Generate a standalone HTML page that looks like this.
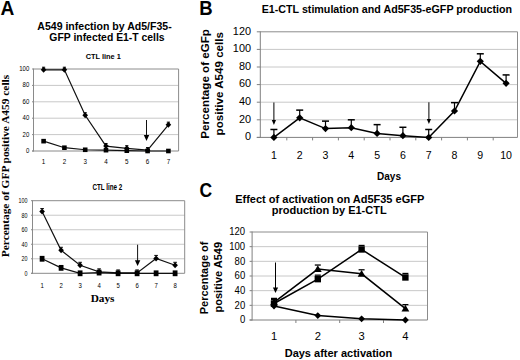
<!DOCTYPE html>
<html><head><meta charset="utf-8"><style>
html,body{margin:0;padding:0;background:#fff;width:520px;height:360px;overflow:hidden}
svg{display:block}
</style></head><body>
<svg width="520" height="360" viewBox="0 0 520 360">
<rect width="520" height="360" fill="#fff"/>
<text x="0.4" y="14.7" font-size="20.6" font-weight="bold" text-anchor="start" font-family='"Liberation Sans", sans-serif' fill="#000"  transform="translate(0.4,0) scale(0.93,1) translate(-0.4,0)">A</text>
<text x="199.2" y="14.9" font-size="20.6" font-weight="bold" text-anchor="start" font-family='"Liberation Sans", sans-serif' fill="#000"  transform="translate(199.2,0) scale(0.9,1) translate(-199.2,0)">B</text>
<text x="199.5" y="197.3" font-size="20.6" font-weight="bold" text-anchor="start" font-family='"Liberation Sans", sans-serif' fill="#000"  transform="translate(199.5,0) scale(0.85,1) translate(-199.5,0)">C</text>
<text x="104.5" y="30" font-size="10.55" font-weight="bold" text-anchor="middle" font-family='"Liberation Sans", sans-serif' fill="#000" >A549 infection by Ad5/F35-</text>
<text x="107" y="40.6" font-size="10.4" font-weight="bold" text-anchor="middle" font-family='"Liberation Sans", sans-serif' fill="#000" >GFP infected E1-T cells</text>
<text x="103.3" y="58.7" font-size="7.4" font-weight="bold" text-anchor="middle" font-family='"Liberation Sans", sans-serif' fill="#000" >CTL line 1</text>
<text x="107.4" y="190.2" font-size="8.6" font-weight="bold" text-anchor="middle" font-family='"Liberation Sans", sans-serif' fill="#000"  transform="translate(107.4,0) scale(0.73,1) translate(-107.4,0)">CTL line 2</text>
<text x="0" y="0" font-size="11.4" font-weight="bold" text-anchor="middle" font-family='"Liberation Serif", serif' fill="#000" transform="translate(8.9,166) rotate(-90)">Percentage of GFP positive A459 cells</text>
<text x="102.6" y="302.3" font-size="11.3" font-weight="bold" text-anchor="middle" font-family='"Liberation Serif", serif' fill="#000" >Days</text>
<line x1="33.50" y1="134.60" x2="178.60" y2="134.60" stroke="#c8c8c8" stroke-width="1" />
<line x1="33.50" y1="118.20" x2="178.60" y2="118.20" stroke="#c8c8c8" stroke-width="1" />
<line x1="33.50" y1="101.80" x2="178.60" y2="101.80" stroke="#c8c8c8" stroke-width="1" />
<line x1="33.50" y1="85.40" x2="178.60" y2="85.40" stroke="#c8c8c8" stroke-width="1" />
<line x1="33.50" y1="69.00" x2="178.60" y2="69.00" stroke="#8c8c8c" stroke-width="1" />
<line x1="178.60" y1="69.00" x2="178.60" y2="151.00" stroke="#8c8c8c" stroke-width="1" />
<line x1="32.00" y1="151.00" x2="33.50" y2="151.00" stroke="#8a8a8a" stroke-width="1" />
<line x1="32.00" y1="134.60" x2="33.50" y2="134.60" stroke="#8a8a8a" stroke-width="1" />
<line x1="32.00" y1="118.20" x2="33.50" y2="118.20" stroke="#8a8a8a" stroke-width="1" />
<line x1="32.00" y1="101.80" x2="33.50" y2="101.80" stroke="#8a8a8a" stroke-width="1" />
<line x1="32.00" y1="85.40" x2="33.50" y2="85.40" stroke="#8a8a8a" stroke-width="1" />
<line x1="32.00" y1="69.00" x2="33.50" y2="69.00" stroke="#8a8a8a" stroke-width="1" />
<line x1="33.50" y1="68.50" x2="33.50" y2="151.50" stroke="#8a8a8a" stroke-width="1" />
<line x1="32.00" y1="151.00" x2="178.60" y2="151.00" stroke="#8a8a8a" stroke-width="1" />
<text x="29.3" y="153.1" font-size="6.5" font-weight="normal" text-anchor="end" font-family='"Liberation Sans", sans-serif' fill="#000"  transform="translate(29.3,0) scale(0.93,1) translate(-29.3,0)">0</text>
<text x="29.3" y="136.7" font-size="6.5" font-weight="normal" text-anchor="end" font-family='"Liberation Sans", sans-serif' fill="#000"  transform="translate(29.3,0) scale(0.93,1) translate(-29.3,0)">20</text>
<text x="29.3" y="120.3" font-size="6.5" font-weight="normal" text-anchor="end" font-family='"Liberation Sans", sans-serif' fill="#000"  transform="translate(29.3,0) scale(0.93,1) translate(-29.3,0)">40</text>
<text x="29.3" y="103.9" font-size="6.5" font-weight="normal" text-anchor="end" font-family='"Liberation Sans", sans-serif' fill="#000"  transform="translate(29.3,0) scale(0.93,1) translate(-29.3,0)">60</text>
<text x="29.3" y="87.5" font-size="6.5" font-weight="normal" text-anchor="end" font-family='"Liberation Sans", sans-serif' fill="#000"  transform="translate(29.3,0) scale(0.93,1) translate(-29.3,0)">80</text>
<text x="29.3" y="71.1" font-size="6.5" font-weight="normal" text-anchor="end" font-family='"Liberation Sans", sans-serif' fill="#000"  transform="translate(29.3,0) scale(0.93,1) translate(-29.3,0)">100</text>
<text x="43.6" y="163.6" font-size="7" font-weight="normal" text-anchor="middle" font-family='"Liberation Sans", sans-serif' fill="#000"  transform="translate(43.6,0) scale(0.9,1) translate(-43.6,0)">1</text>
<text x="64.4" y="163.6" font-size="7" font-weight="normal" text-anchor="middle" font-family='"Liberation Sans", sans-serif' fill="#000"  transform="translate(64.4,0) scale(0.9,1) translate(-64.4,0)">2</text>
<text x="85.2" y="163.6" font-size="7" font-weight="normal" text-anchor="middle" font-family='"Liberation Sans", sans-serif' fill="#000"  transform="translate(85.2,0) scale(0.9,1) translate(-85.2,0)">3</text>
<text x="106.0" y="163.6" font-size="7" font-weight="normal" text-anchor="middle" font-family='"Liberation Sans", sans-serif' fill="#000"  transform="translate(106.0,0) scale(0.9,1) translate(-106.0,0)">4</text>
<text x="126.80000000000001" y="163.6" font-size="7" font-weight="normal" text-anchor="middle" font-family='"Liberation Sans", sans-serif' fill="#000"  transform="translate(126.80000000000001,0) scale(0.9,1) translate(-126.80000000000001,0)">5</text>
<text x="147.6" y="163.6" font-size="7" font-weight="normal" text-anchor="middle" font-family='"Liberation Sans", sans-serif' fill="#000"  transform="translate(147.6,0) scale(0.9,1) translate(-147.6,0)">6</text>
<text x="168.4" y="163.6" font-size="7" font-weight="normal" text-anchor="middle" font-family='"Liberation Sans", sans-serif' fill="#000"  transform="translate(168.4,0) scale(0.9,1) translate(-168.4,0)">7</text>
<path d="M43.60,141.16L64.40,147.72L85.20,149.77L106.00,150.18L126.80,150.59L147.60,151.00L168.40,151.00" fill="none" stroke="#111" stroke-width="1.2" />
<path d="M43.60,69.82L64.40,69.82L85.20,115.33L106.00,146.08L126.80,148.29L147.60,150.18L168.40,124.76" fill="none" stroke="#111" stroke-width="1.2" />
<path d="M41.30,138.86h4.60v4.60h-4.60Z" fill="#000" stroke="none" stroke-width="1" />
<path d="M62.10,145.42h4.60v4.60h-4.60Z" fill="#000" stroke="none" stroke-width="1" />
<path d="M82.90,147.47h4.60v4.60h-4.60Z" fill="#000" stroke="none" stroke-width="1" />
<path d="M103.70,147.88h4.60v4.60h-4.60Z" fill="#000" stroke="none" stroke-width="1" />
<path d="M124.50,148.29h4.60v4.60h-4.60Z" fill="#000" stroke="none" stroke-width="1" />
<path d="M145.30,148.70h4.60v4.60h-4.60Z" fill="#000" stroke="none" stroke-width="1" />
<path d="M166.10,148.70h4.60v4.60h-4.60Z" fill="#000" stroke="none" stroke-width="1" />
<path d="M43.60,66.82L46.40,69.82L43.60,72.82L40.80,69.82Z" fill="#000" stroke="none" stroke-width="1" />
<line x1="42.00" y1="67.22" x2="45.20" y2="67.22" stroke="#000" stroke-width="1" />
<path d="M64.40,66.82L67.20,69.82L64.40,72.82L61.60,69.82Z" fill="#000" stroke="none" stroke-width="1" />
<line x1="62.80" y1="67.22" x2="66.00" y2="67.22" stroke="#000" stroke-width="1" />
<path d="M85.20,112.33L88.00,115.33L85.20,118.33L82.40,115.33Z" fill="#000" stroke="none" stroke-width="1" />
<line x1="83.60" y1="112.73" x2="86.80" y2="112.73" stroke="#000" stroke-width="1" />
<path d="M106.00,143.08L108.80,146.08L106.00,149.08L103.20,146.08Z" fill="#000" stroke="none" stroke-width="1" />
<line x1="104.40" y1="143.48" x2="107.60" y2="143.48" stroke="#000" stroke-width="1" />
<path d="M126.80,145.29L129.60,148.29L126.80,151.29L124.00,148.29Z" fill="#000" stroke="none" stroke-width="1" />
<line x1="125.20" y1="145.69" x2="128.40" y2="145.69" stroke="#000" stroke-width="1" />
<path d="M147.60,147.18L150.40,150.18L147.60,153.18L144.80,150.18Z" fill="#000" stroke="none" stroke-width="1" />
<line x1="146.00" y1="147.58" x2="149.20" y2="147.58" stroke="#000" stroke-width="1" />
<path d="M168.40,121.76L171.20,124.76L168.40,127.76L165.60,124.76Z" fill="#000" stroke="none" stroke-width="1" />
<line x1="166.80" y1="122.16" x2="170.00" y2="122.16" stroke="#000" stroke-width="1" />
<line x1="146.50" y1="120.00" x2="146.50" y2="136.00" stroke="#111" stroke-width="1" />
<path d="M143.8,135L149.2,135L146.5,141Z" fill="#000" stroke="none" stroke-width="1" />
<line x1="32.50" y1="258.78" x2="184.70" y2="258.78" stroke="#c8c8c8" stroke-width="1" />
<line x1="32.50" y1="244.26" x2="184.70" y2="244.26" stroke="#c8c8c8" stroke-width="1" />
<line x1="32.50" y1="229.74" x2="184.70" y2="229.74" stroke="#c8c8c8" stroke-width="1" />
<line x1="32.50" y1="215.22" x2="184.70" y2="215.22" stroke="#c8c8c8" stroke-width="1" />
<line x1="32.50" y1="200.70" x2="184.70" y2="200.70" stroke="#8c8c8c" stroke-width="1" />
<line x1="184.70" y1="200.70" x2="184.70" y2="273.30" stroke="#8c8c8c" stroke-width="1" />
<line x1="31.00" y1="273.30" x2="32.50" y2="273.30" stroke="#8a8a8a" stroke-width="1" />
<line x1="31.00" y1="258.78" x2="32.50" y2="258.78" stroke="#8a8a8a" stroke-width="1" />
<line x1="31.00" y1="244.26" x2="32.50" y2="244.26" stroke="#8a8a8a" stroke-width="1" />
<line x1="31.00" y1="229.74" x2="32.50" y2="229.74" stroke="#8a8a8a" stroke-width="1" />
<line x1="31.00" y1="215.22" x2="32.50" y2="215.22" stroke="#8a8a8a" stroke-width="1" />
<line x1="31.00" y1="200.70" x2="32.50" y2="200.70" stroke="#8a8a8a" stroke-width="1" />
<line x1="32.50" y1="200.20" x2="32.50" y2="273.80" stroke="#8a8a8a" stroke-width="1" />
<line x1="31.00" y1="273.30" x2="184.70" y2="273.30" stroke="#8a8a8a" stroke-width="1" />
<text x="27.6" y="276.0" font-size="7.7" font-weight="normal" text-anchor="end" font-family='"Liberation Sans", sans-serif' fill="#000"  transform="translate(27.6,0) scale(0.7,1) translate(-27.6,0)">0</text>
<text x="27.6" y="261.48" font-size="7.7" font-weight="normal" text-anchor="end" font-family='"Liberation Sans", sans-serif' fill="#000"  transform="translate(27.6,0) scale(0.7,1) translate(-27.6,0)">20</text>
<text x="27.6" y="246.96" font-size="7.7" font-weight="normal" text-anchor="end" font-family='"Liberation Sans", sans-serif' fill="#000"  transform="translate(27.6,0) scale(0.7,1) translate(-27.6,0)">40</text>
<text x="27.6" y="232.44" font-size="7.7" font-weight="normal" text-anchor="end" font-family='"Liberation Sans", sans-serif' fill="#000"  transform="translate(27.6,0) scale(0.7,1) translate(-27.6,0)">60</text>
<text x="27.6" y="217.92000000000002" font-size="7.7" font-weight="normal" text-anchor="end" font-family='"Liberation Sans", sans-serif' fill="#000"  transform="translate(27.6,0) scale(0.7,1) translate(-27.6,0)">80</text>
<text x="27.6" y="203.4" font-size="7.7" font-weight="normal" text-anchor="end" font-family='"Liberation Sans", sans-serif' fill="#000"  transform="translate(27.6,0) scale(0.7,1) translate(-27.6,0)">100</text>
<text x="42.1" y="287.6" font-size="8" font-weight="normal" text-anchor="middle" font-family='"Liberation Sans", sans-serif' fill="#000"  transform="translate(42.1,0) scale(0.75,1) translate(-42.1,0)">1</text>
<text x="61.1" y="287.6" font-size="8" font-weight="normal" text-anchor="middle" font-family='"Liberation Sans", sans-serif' fill="#000"  transform="translate(61.1,0) scale(0.75,1) translate(-61.1,0)">2</text>
<text x="80.1" y="287.6" font-size="8" font-weight="normal" text-anchor="middle" font-family='"Liberation Sans", sans-serif' fill="#000"  transform="translate(80.1,0) scale(0.75,1) translate(-80.1,0)">3</text>
<text x="99.1" y="287.6" font-size="8" font-weight="normal" text-anchor="middle" font-family='"Liberation Sans", sans-serif' fill="#000"  transform="translate(99.1,0) scale(0.75,1) translate(-99.1,0)">4</text>
<text x="118.1" y="287.6" font-size="8" font-weight="normal" text-anchor="middle" font-family='"Liberation Sans", sans-serif' fill="#000"  transform="translate(118.1,0) scale(0.75,1) translate(-118.1,0)">5</text>
<text x="137.1" y="287.6" font-size="8" font-weight="normal" text-anchor="middle" font-family='"Liberation Sans", sans-serif' fill="#000"  transform="translate(137.1,0) scale(0.75,1) translate(-137.1,0)">6</text>
<text x="156.1" y="287.6" font-size="8" font-weight="normal" text-anchor="middle" font-family='"Liberation Sans", sans-serif' fill="#000"  transform="translate(156.1,0) scale(0.75,1) translate(-156.1,0)">7</text>
<text x="175.1" y="287.6" font-size="8" font-weight="normal" text-anchor="middle" font-family='"Liberation Sans", sans-serif' fill="#000"  transform="translate(175.1,0) scale(0.75,1) translate(-175.1,0)">8</text>
<path d="M42.10,258.78L61.10,267.86L80.10,273.30L99.10,272.57L118.10,273.30L137.10,273.30L156.10,273.30L175.10,273.30" fill="none" stroke="#111" stroke-width="1.2" />
<path d="M42.10,211.59L61.10,250.29L80.10,265.31L99.10,271.85L118.10,272.94L137.10,272.94L156.10,258.42L175.10,265.31" fill="none" stroke="#111" stroke-width="1.2" />
<path d="M39.70,255.88h4.80v5.80h-4.80Z" fill="#000" stroke="none" stroke-width="1" />
<path d="M58.70,264.96h4.80v5.80h-4.80Z" fill="#000" stroke="none" stroke-width="1" />
<path d="M77.70,270.40h4.80v5.80h-4.80Z" fill="#000" stroke="none" stroke-width="1" />
<path d="M96.70,269.67h4.80v5.80h-4.80Z" fill="#000" stroke="none" stroke-width="1" />
<path d="M115.70,270.40h4.80v5.80h-4.80Z" fill="#000" stroke="none" stroke-width="1" />
<path d="M134.70,270.40h4.80v5.80h-4.80Z" fill="#000" stroke="none" stroke-width="1" />
<path d="M153.70,270.40h4.80v5.80h-4.80Z" fill="#000" stroke="none" stroke-width="1" />
<path d="M172.70,270.40h4.80v5.80h-4.80Z" fill="#000" stroke="none" stroke-width="1" />
<path d="M42.10,208.59L44.90,211.59L42.10,214.59L39.30,211.59Z" fill="#000" stroke="none" stroke-width="1" />
<line x1="40.30" y1="208.59" x2="43.90" y2="208.59" stroke="#000" stroke-width="1" />
<path d="M61.10,247.29L63.90,250.29L61.10,253.29L58.30,250.29Z" fill="#000" stroke="none" stroke-width="1" />
<line x1="59.30" y1="247.29" x2="62.90" y2="247.29" stroke="#000" stroke-width="1" />
<path d="M80.10,262.31L82.90,265.31L80.10,268.31L77.30,265.31Z" fill="#000" stroke="none" stroke-width="1" />
<line x1="78.30" y1="262.31" x2="81.90" y2="262.31" stroke="#000" stroke-width="1" />
<path d="M99.10,268.85L101.90,271.85L99.10,274.85L96.30,271.85Z" fill="#000" stroke="none" stroke-width="1" />
<line x1="97.30" y1="268.85" x2="100.90" y2="268.85" stroke="#000" stroke-width="1" />
<path d="M118.10,269.94L120.90,272.94L118.10,275.94L115.30,272.94Z" fill="#000" stroke="none" stroke-width="1" />
<line x1="116.30" y1="269.94" x2="119.90" y2="269.94" stroke="#000" stroke-width="1" />
<path d="M137.10,269.94L139.90,272.94L137.10,275.94L134.30,272.94Z" fill="#000" stroke="none" stroke-width="1" />
<line x1="135.30" y1="269.94" x2="138.90" y2="269.94" stroke="#000" stroke-width="1" />
<path d="M156.10,255.42L158.90,258.42L156.10,261.42L153.30,258.42Z" fill="#000" stroke="none" stroke-width="1" />
<line x1="154.30" y1="255.42" x2="157.90" y2="255.42" stroke="#000" stroke-width="1" />
<path d="M175.10,262.31L177.90,265.31L175.10,268.31L172.30,265.31Z" fill="#000" stroke="none" stroke-width="1" />
<line x1="173.30" y1="262.31" x2="176.90" y2="262.31" stroke="#000" stroke-width="1" />
<line x1="137.60" y1="244.70" x2="137.60" y2="261.00" stroke="#111" stroke-width="1" />
<path d="M134.9,260.3L140.29999999999998,260.3L137.6,266Z" fill="#000" stroke="none" stroke-width="1" />
<text x="386.9" y="13.1" font-size="10.7" font-weight="bold" text-anchor="middle" font-family='"Liberation Sans", sans-serif' fill="#000" >E1-CTL stimulation and Ad5F35-eGFP production</text>
<line x1="260.30" y1="119.80" x2="517.50" y2="119.80" stroke="#c8c8c8" stroke-width="1" />
<line x1="260.30" y1="102.20" x2="517.50" y2="102.20" stroke="#c8c8c8" stroke-width="1" />
<line x1="260.30" y1="84.60" x2="517.50" y2="84.60" stroke="#c8c8c8" stroke-width="1" />
<line x1="260.30" y1="67.00" x2="517.50" y2="67.00" stroke="#c8c8c8" stroke-width="1" />
<line x1="260.30" y1="49.40" x2="517.50" y2="49.40" stroke="#c8c8c8" stroke-width="1" />
<line x1="260.30" y1="31.80" x2="517.50" y2="31.80" stroke="#8c8c8c" stroke-width="1" />
<line x1="517.50" y1="31.80" x2="517.50" y2="137.40" stroke="#8c8c8c" stroke-width="1" />
<line x1="256.80" y1="137.40" x2="260.30" y2="137.40" stroke="#808080" stroke-width="1" />
<line x1="256.80" y1="119.80" x2="260.30" y2="119.80" stroke="#808080" stroke-width="1" />
<line x1="256.80" y1="102.20" x2="260.30" y2="102.20" stroke="#808080" stroke-width="1" />
<line x1="256.80" y1="84.60" x2="260.30" y2="84.60" stroke="#808080" stroke-width="1" />
<line x1="256.80" y1="67.00" x2="260.30" y2="67.00" stroke="#808080" stroke-width="1" />
<line x1="256.80" y1="49.40" x2="260.30" y2="49.40" stroke="#808080" stroke-width="1" />
<line x1="256.80" y1="31.80" x2="260.30" y2="31.80" stroke="#808080" stroke-width="1" />
<line x1="260.30" y1="31.30" x2="260.30" y2="137.90" stroke="#808080" stroke-width="1" />
<line x1="256.80" y1="137.40" x2="517.50" y2="137.40" stroke="#808080" stroke-width="1" />
<line x1="286.80" y1="137.40" x2="286.80" y2="140.40" stroke="#808080" stroke-width="1" />
<line x1="312.60" y1="137.40" x2="312.60" y2="140.40" stroke="#808080" stroke-width="1" />
<line x1="338.40" y1="137.40" x2="338.40" y2="140.40" stroke="#808080" stroke-width="1" />
<line x1="364.20" y1="137.40" x2="364.20" y2="140.40" stroke="#808080" stroke-width="1" />
<line x1="390.00" y1="137.40" x2="390.00" y2="140.40" stroke="#808080" stroke-width="1" />
<line x1="415.80" y1="137.40" x2="415.80" y2="140.40" stroke="#808080" stroke-width="1" />
<line x1="441.60" y1="137.40" x2="441.60" y2="140.40" stroke="#808080" stroke-width="1" />
<line x1="467.40" y1="137.40" x2="467.40" y2="140.40" stroke="#808080" stroke-width="1" />
<line x1="493.20" y1="137.40" x2="493.20" y2="140.40" stroke="#808080" stroke-width="1" />
<text x="251.0" y="140.20000000000002" font-size="10.9" font-weight="normal" text-anchor="end" font-family='"Liberation Sans", sans-serif' fill="#000" >0</text>
<text x="251.0" y="122.60000000000001" font-size="10.9" font-weight="normal" text-anchor="end" font-family='"Liberation Sans", sans-serif' fill="#000" >20</text>
<text x="251.0" y="105.0" font-size="10.9" font-weight="normal" text-anchor="end" font-family='"Liberation Sans", sans-serif' fill="#000" >40</text>
<text x="251.0" y="87.4" font-size="10.9" font-weight="normal" text-anchor="end" font-family='"Liberation Sans", sans-serif' fill="#000" >60</text>
<text x="251.0" y="69.8" font-size="10.9" font-weight="normal" text-anchor="end" font-family='"Liberation Sans", sans-serif' fill="#000" >80</text>
<text x="251.0" y="52.2" font-size="10.9" font-weight="normal" text-anchor="end" font-family='"Liberation Sans", sans-serif' fill="#000" >100</text>
<text x="251.0" y="34.60000000000001" font-size="10.9" font-weight="normal" text-anchor="end" font-family='"Liberation Sans", sans-serif' fill="#000" >120</text>
<text x="273.9" y="159.3" font-size="10.6" font-weight="normal" text-anchor="middle" font-family='"Liberation Sans", sans-serif' fill="#000" >1</text>
<text x="299.7" y="159.3" font-size="10.6" font-weight="normal" text-anchor="middle" font-family='"Liberation Sans", sans-serif' fill="#000" >2</text>
<text x="325.5" y="159.3" font-size="10.6" font-weight="normal" text-anchor="middle" font-family='"Liberation Sans", sans-serif' fill="#000" >3</text>
<text x="351.29999999999995" y="159.3" font-size="10.6" font-weight="normal" text-anchor="middle" font-family='"Liberation Sans", sans-serif' fill="#000" >4</text>
<text x="377.09999999999997" y="159.3" font-size="10.6" font-weight="normal" text-anchor="middle" font-family='"Liberation Sans", sans-serif' fill="#000" >5</text>
<text x="402.9" y="159.3" font-size="10.6" font-weight="normal" text-anchor="middle" font-family='"Liberation Sans", sans-serif' fill="#000" >6</text>
<text x="428.7" y="159.3" font-size="10.6" font-weight="normal" text-anchor="middle" font-family='"Liberation Sans", sans-serif' fill="#000" >7</text>
<text x="454.5" y="159.3" font-size="10.6" font-weight="normal" text-anchor="middle" font-family='"Liberation Sans", sans-serif' fill="#000" >8</text>
<text x="480.29999999999995" y="159.3" font-size="10.6" font-weight="normal" text-anchor="middle" font-family='"Liberation Sans", sans-serif' fill="#000" >9</text>
<text x="506.1" y="159.3" font-size="10.6" font-weight="normal" text-anchor="middle" font-family='"Liberation Sans", sans-serif' fill="#000" >10</text>
<path d="M273.90,137.40L299.70,117.86L325.50,128.60L351.30,127.72L377.10,133.44L402.90,135.64L428.70,137.40L454.50,111.00L480.30,61.37L506.10,83.37" fill="none" stroke="#000" stroke-width="1.5" />
<line x1="273.90" y1="137.40" x2="273.90" y2="129.48" stroke="#000" stroke-width="1.2" />
<line x1="270.40" y1="129.48" x2="277.40" y2="129.48" stroke="#000" stroke-width="1.5" />
<path d="M273.90,133.80L277.50,137.40L273.90,141.00L270.30,137.40Z" fill="#000" stroke="none" stroke-width="1" />
<line x1="299.70" y1="117.86" x2="299.70" y2="110.12" stroke="#000" stroke-width="1.2" />
<line x1="296.20" y1="110.12" x2="303.20" y2="110.12" stroke="#000" stroke-width="1.5" />
<path d="M299.70,114.26L303.30,117.86L299.70,121.46L296.10,117.86Z" fill="#000" stroke="none" stroke-width="1" />
<line x1="325.50" y1="128.60" x2="325.50" y2="121.12" stroke="#000" stroke-width="1.2" />
<line x1="322.00" y1="121.12" x2="329.00" y2="121.12" stroke="#000" stroke-width="1.5" />
<path d="M325.50,125.00L329.10,128.60L325.50,132.20L321.90,128.60Z" fill="#000" stroke="none" stroke-width="1" />
<line x1="351.30" y1="127.72" x2="351.30" y2="119.80" stroke="#000" stroke-width="1.2" />
<line x1="347.80" y1="119.80" x2="354.80" y2="119.80" stroke="#000" stroke-width="1.5" />
<path d="M351.30,124.12L354.90,127.72L351.30,131.32L347.70,127.72Z" fill="#000" stroke="none" stroke-width="1" />
<line x1="377.10" y1="133.44" x2="377.10" y2="124.64" stroke="#000" stroke-width="1.2" />
<line x1="373.60" y1="124.64" x2="380.60" y2="124.64" stroke="#000" stroke-width="1.5" />
<path d="M377.10,129.84L380.70,133.44L377.10,137.04L373.50,133.44Z" fill="#000" stroke="none" stroke-width="1" />
<line x1="402.90" y1="135.64" x2="402.90" y2="127.28" stroke="#000" stroke-width="1.2" />
<line x1="399.40" y1="127.28" x2="406.40" y2="127.28" stroke="#000" stroke-width="1.5" />
<path d="M402.90,132.04L406.50,135.64L402.90,139.24L399.30,135.64Z" fill="#000" stroke="none" stroke-width="1" />
<line x1="428.70" y1="137.40" x2="428.70" y2="129.48" stroke="#000" stroke-width="1.2" />
<line x1="425.20" y1="129.48" x2="432.20" y2="129.48" stroke="#000" stroke-width="1.5" />
<path d="M428.70,133.80L432.30,137.40L428.70,141.00L425.10,137.40Z" fill="#000" stroke="none" stroke-width="1" />
<line x1="454.50" y1="111.00" x2="454.50" y2="102.64" stroke="#000" stroke-width="1.2" />
<line x1="451.00" y1="102.64" x2="458.00" y2="102.64" stroke="#000" stroke-width="1.5" />
<path d="M454.50,107.40L458.10,111.00L454.50,114.60L450.90,111.00Z" fill="#000" stroke="none" stroke-width="1" />
<line x1="480.30" y1="61.37" x2="480.30" y2="53.80" stroke="#000" stroke-width="1.2" />
<line x1="476.80" y1="53.80" x2="483.80" y2="53.80" stroke="#000" stroke-width="1.5" />
<path d="M480.30,57.77L483.90,61.37L480.30,64.97L476.70,61.37Z" fill="#000" stroke="none" stroke-width="1" />
<line x1="506.10" y1="83.37" x2="506.10" y2="74.92" stroke="#000" stroke-width="1.2" />
<line x1="502.60" y1="74.92" x2="509.60" y2="74.92" stroke="#000" stroke-width="1.5" />
<path d="M506.10,79.77L509.70,83.37L506.10,86.97L502.50,83.37Z" fill="#000" stroke="none" stroke-width="1" />
<line x1="273.90" y1="102.50" x2="273.90" y2="121.00" stroke="#000" stroke-width="1" />
<path d="M271.79999999999995,120L276.0,120L273.9,125Z" fill="#000" stroke="none" stroke-width="1" />
<line x1="428.90" y1="102.30" x2="428.90" y2="120.00" stroke="#000" stroke-width="1" />
<path d="M426.79999999999995,119L431.0,119L428.9,124Z" fill="#000" stroke="none" stroke-width="1" />
<text x="389" y="179.6" font-size="10" font-weight="bold" text-anchor="middle" font-family='"Liberation Sans", sans-serif' fill="#000" >Days</text>
<text x="0" y="0" font-size="11.6" font-weight="bold" text-anchor="middle" font-family='"Liberation Sans", sans-serif' fill="#000" transform="translate(208.6,83.9) rotate(-90)">Percentage of eGFp</text>
<text x="0" y="0" font-size="11.6" font-weight="bold" text-anchor="middle" font-family='"Liberation Sans", sans-serif' fill="#000" transform="translate(223,83.75) rotate(-90)">positive A549 cells</text>
<text x="329.75" y="202.7" font-size="11" font-weight="bold" text-anchor="middle" font-family='"Liberation Sans", sans-serif' fill="#000" >Effect of activation on Ad5F35 eGFP</text>
<text x="329.2" y="214.4" font-size="11" font-weight="bold" text-anchor="middle" font-family='"Liberation Sans", sans-serif' fill="#000" >production by E1-CTL</text>
<line x1="252.10" y1="305.33" x2="427.50" y2="305.33" stroke="#c8c8c8" stroke-width="1" />
<line x1="252.10" y1="290.67" x2="427.50" y2="290.67" stroke="#c8c8c8" stroke-width="1" />
<line x1="252.10" y1="276.00" x2="427.50" y2="276.00" stroke="#c8c8c8" stroke-width="1" />
<line x1="252.10" y1="261.34" x2="427.50" y2="261.34" stroke="#c8c8c8" stroke-width="1" />
<line x1="252.10" y1="246.67" x2="427.50" y2="246.67" stroke="#c8c8c8" stroke-width="1" />
<line x1="252.10" y1="232.00" x2="427.50" y2="232.00" stroke="#8c8c8c" stroke-width="1" />
<line x1="427.50" y1="232.00" x2="427.50" y2="320.00" stroke="#8c8c8c" stroke-width="1" />
<line x1="249.60" y1="320.00" x2="252.10" y2="320.00" stroke="#808080" stroke-width="1" />
<line x1="249.60" y1="305.33" x2="252.10" y2="305.33" stroke="#808080" stroke-width="1" />
<line x1="249.60" y1="290.67" x2="252.10" y2="290.67" stroke="#808080" stroke-width="1" />
<line x1="249.60" y1="276.00" x2="252.10" y2="276.00" stroke="#808080" stroke-width="1" />
<line x1="249.60" y1="261.34" x2="252.10" y2="261.34" stroke="#808080" stroke-width="1" />
<line x1="249.60" y1="246.67" x2="252.10" y2="246.67" stroke="#808080" stroke-width="1" />
<line x1="249.60" y1="232.00" x2="252.10" y2="232.00" stroke="#808080" stroke-width="1" />
<line x1="252.10" y1="231.50" x2="252.10" y2="320.50" stroke="#808080" stroke-width="1" />
<line x1="249.60" y1="320.00" x2="427.50" y2="320.00" stroke="#808080" stroke-width="1" />
<line x1="295.90" y1="320.00" x2="295.90" y2="323.00" stroke="#808080" stroke-width="1" />
<line x1="339.70" y1="320.00" x2="339.70" y2="323.00" stroke="#808080" stroke-width="1" />
<line x1="383.50" y1="320.00" x2="383.50" y2="323.00" stroke="#808080" stroke-width="1" />
<text x="245.2" y="323.2" font-size="10.6" font-weight="normal" text-anchor="end" font-family='"Liberation Sans", sans-serif' fill="#000"  transform="translate(245.2,0) scale(0.9,1) translate(-245.2,0)">0</text>
<text x="245.2" y="308.534" font-size="10.6" font-weight="normal" text-anchor="end" font-family='"Liberation Sans", sans-serif' fill="#000"  transform="translate(245.2,0) scale(0.9,1) translate(-245.2,0)">20</text>
<text x="245.2" y="293.868" font-size="10.6" font-weight="normal" text-anchor="end" font-family='"Liberation Sans", sans-serif' fill="#000"  transform="translate(245.2,0) scale(0.9,1) translate(-245.2,0)">40</text>
<text x="245.2" y="279.202" font-size="10.6" font-weight="normal" text-anchor="end" font-family='"Liberation Sans", sans-serif' fill="#000"  transform="translate(245.2,0) scale(0.9,1) translate(-245.2,0)">60</text>
<text x="245.2" y="264.536" font-size="10.6" font-weight="normal" text-anchor="end" font-family='"Liberation Sans", sans-serif' fill="#000"  transform="translate(245.2,0) scale(0.9,1) translate(-245.2,0)">80</text>
<text x="245.2" y="249.87" font-size="10.6" font-weight="normal" text-anchor="end" font-family='"Liberation Sans", sans-serif' fill="#000"  transform="translate(245.2,0) scale(0.9,1) translate(-245.2,0)">100</text>
<text x="245.2" y="235.204" font-size="10.6" font-weight="normal" text-anchor="end" font-family='"Liberation Sans", sans-serif' fill="#000"  transform="translate(245.2,0) scale(0.9,1) translate(-245.2,0)">120</text>
<text x="274.0" y="339.8" font-size="11.2" font-weight="normal" text-anchor="middle" font-family='"Liberation Sans", sans-serif' fill="#000" >1</text>
<text x="317.8" y="339.8" font-size="11.2" font-weight="normal" text-anchor="middle" font-family='"Liberation Sans", sans-serif' fill="#000" >2</text>
<text x="361.6" y="339.8" font-size="11.2" font-weight="normal" text-anchor="middle" font-family='"Liberation Sans", sans-serif' fill="#000" >3</text>
<text x="405.4" y="339.8" font-size="11.2" font-weight="normal" text-anchor="middle" font-family='"Liberation Sans", sans-serif' fill="#000" >4</text>
<path d="M274.00,303.50L317.80,279.16L361.60,249.46L405.40,277.47" fill="none" stroke="#000" stroke-width="1.5" />
<path d="M274.00,302.40L317.80,269.04L361.60,273.80L405.40,308.63" fill="none" stroke="#000" stroke-width="1.5" />
<path d="M274.00,306.07L317.80,315.60L361.60,318.83L405.40,320.00" fill="none" stroke="#000" stroke-width="1.5" />
<line x1="271.00" y1="299.50" x2="277.00" y2="299.50" stroke="#000" stroke-width="1.3" />
<path d="M270.80,300.30h6.40v6.40h-6.40Z" fill="#000" stroke="none" stroke-width="1" />
<line x1="314.80" y1="275.16" x2="320.80" y2="275.16" stroke="#000" stroke-width="1.3" />
<path d="M314.60,275.96h6.40v6.40h-6.40Z" fill="#000" stroke="none" stroke-width="1" />
<line x1="358.60" y1="245.46" x2="364.60" y2="245.46" stroke="#000" stroke-width="1.3" />
<path d="M358.40,246.26h6.40v6.40h-6.40Z" fill="#000" stroke="none" stroke-width="1" />
<line x1="402.40" y1="273.47" x2="408.40" y2="273.47" stroke="#000" stroke-width="1.3" />
<path d="M402.20,274.27h6.40v6.40h-6.40Z" fill="#000" stroke="none" stroke-width="1" />
<line x1="271.00" y1="298.40" x2="277.00" y2="298.40" stroke="#000" stroke-width="1.3" />
<path d="M274.00,298.49L277.91,305.29L270.09,305.29Z" fill="#000" stroke="none" stroke-width="1" />
<line x1="314.80" y1="265.04" x2="320.80" y2="265.04" stroke="#000" stroke-width="1.3" />
<path d="M317.80,265.13L321.71,271.93L313.89,271.93Z" fill="#000" stroke="none" stroke-width="1" />
<line x1="358.60" y1="269.80" x2="364.60" y2="269.80" stroke="#000" stroke-width="1.3" />
<path d="M361.60,269.89L365.51,276.69L357.69,276.69Z" fill="#000" stroke="none" stroke-width="1" />
<line x1="402.40" y1="304.63" x2="408.40" y2="304.63" stroke="#000" stroke-width="1.3" />
<path d="M405.40,304.72L409.31,311.52L401.49,311.52Z" fill="#000" stroke="none" stroke-width="1" />
<path d="M274.00,302.67L277.40,306.07L274.00,309.47L270.60,306.07Z" fill="#000" stroke="none" stroke-width="1" />
<path d="M317.80,312.20L321.20,315.60L317.80,319.00L314.40,315.60Z" fill="#000" stroke="none" stroke-width="1" />
<path d="M361.60,315.43L365.00,318.83L361.60,322.23L358.20,318.83Z" fill="#000" stroke="none" stroke-width="1" />
<path d="M405.40,316.60L408.80,320.00L405.40,323.40L402.00,320.00Z" fill="#000" stroke="none" stroke-width="1" />
<line x1="275.50" y1="262.50" x2="275.50" y2="288.00" stroke="#000" stroke-width="1" />
<path d="M272.9,287.5L278.1,287.5L275.5,293Z" fill="#000" stroke="none" stroke-width="1" />
<text x="338.5" y="357" font-size="11" font-weight="bold" text-anchor="middle" font-family='"Liberation Sans", sans-serif' fill="#000" >Days after activation</text>
<text x="0" y="0" font-size="11" font-weight="bold" text-anchor="middle" font-family='"Liberation Sans", sans-serif' fill="#000" transform="translate(208.3,277.9) rotate(-90)">Percentage of</text>
<text x="0" y="0" font-size="11" font-weight="bold" text-anchor="middle" font-family='"Liberation Sans", sans-serif' fill="#000" transform="translate(221.7,277.2) rotate(-90)">positive A549</text>
</svg>
</body></html>
